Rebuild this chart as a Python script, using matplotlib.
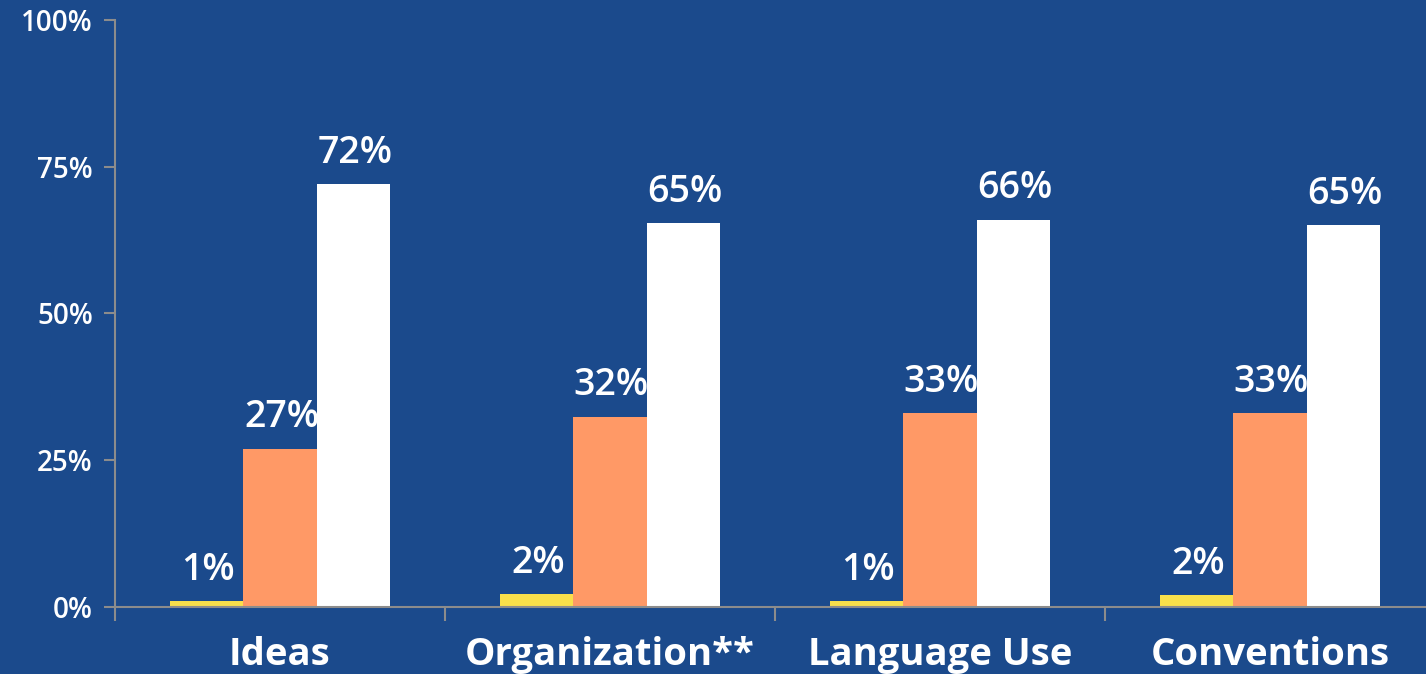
import numpy as np
import matplotlib.pyplot as plt
from matplotlib.ticker import FixedLocator, FuncFormatter

# data
categories = ['Ideas', 'Organization**', 'Language Use', 'Conventions']
low = [1.0, 2.2, 1.0, 2.0]
mid = [27.0, 32.4, 33.0, 33.0]
high = [72.0, 65.4, 66.0, 65.0]
low_labels = ['1%', '2%', '1%', '2%']
mid_labels = ['27%', '32%', '33%', '33%']
high_labels = ['72%', '65%', '66%', '65%']

bg = '#1B4A8C'
spine = '#8C8C8C'
colors = ['#F9E04B', '#FF9966', '#FFFFFF']

plt.rcParams['font.family'] = ['Open Sans', 'DejaVu Sans']

fig = plt.figure(figsize=(14.26, 6.74), dpi=100, facecolor=bg)
ax = fig.add_axes([115/1426, 1 - 607/674, 1320/1426, 587/674])
ax.set_facecolor(bg)

x = np.arange(len(categories))
w = 0.2227
series = [(low, low_labels), (mid, mid_labels), (high, high_labels)]
for i, (vals, labs) in enumerate(series):
    pos = x + (i - 1) * w
    ax.bar(pos, vals, width=w, color=colors[i], zorder=2)
    for px, v, t in zip(pos, vals, labs):
        ax.annotate(t, (px, v), xytext=(1, 9), textcoords='offset points',
                    ha='center', va='bottom', color='white', fontsize=27,
                    fontweight='semibold')

ax.set_xlim(-0.5, 3.5)
ax.set_ylim(0, 100)

for s in ['top', 'right']:
    ax.spines[s].set_visible(False)
for s in ['left', 'bottom']:
    ax.spines[s].set_color(spine)
    ax.spines[s].set_linewidth(1.5)

ax.set_yticks([0, 25, 50, 75, 100])
ax.yaxis.set_major_formatter(FuncFormatter(lambda v, p: f'{v:.0f}%'))
ax.tick_params(axis='y', colors=spine, length=8, width=1.5, labelcolor='white',
               labelsize=20, pad=8)
for lab in ax.get_yticklabels():
    lab.set_fontweight('semibold')

ax.xaxis.set_major_locator(FixedLocator([-0.5, 0.5, 1.5, 2.5]))
ax.xaxis.set_major_formatter(FuncFormatter(lambda v, p: ''))
ax.xaxis.set_minor_locator(FixedLocator(x))
ax.set_xticklabels(categories, minor=True)
ax.tick_params(axis='x', which='major', colors=spine, length=10, width=1.5)
ax.tick_params(axis='x', which='minor', length=0, labelcolor='white',
               labelsize=27.5, pad=21)
for lab in ax.get_xticklabels(minor=True):
    lab.set_fontweight('bold')

fig.savefig('out.png', dpi=100, facecolor=bg)
